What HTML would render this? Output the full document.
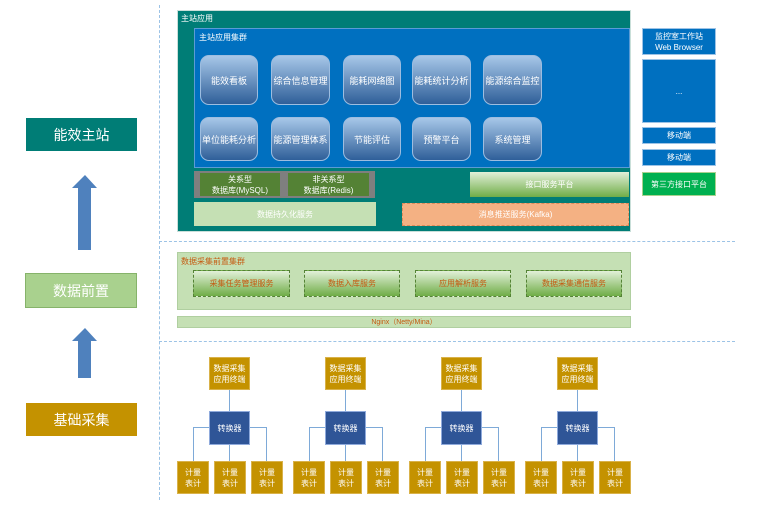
<!DOCTYPE html><html><head><meta charset="utf-8"><style>
body{margin:0;width:764px;height:522px;background:#fff;position:relative;font-family:"Liberation Sans","Noto Sans CJK SC",sans-serif;overflow:hidden}
div{position:absolute;box-sizing:border-box}
.c{display:flex;align-items:center;justify-content:center;text-align:center}
.btn{border-radius:9px;background:linear-gradient(#a7c7e8,#2f5f99);border:1px solid #9dbde0;color:#fff;font-size:9px}
.g{background:#c49200;border:1px solid #d9b24a;color:#fff;font-size:8px;line-height:11px}
.ln{background:#7eaad8}
</style></head><body>
<div style="left:159px;top:5px;height:495px;border-left:1px dashed #9cc3e6"></div>
<div style="left:159px;top:241px;width:576px;border-top:1px dashed #9cc3e6"></div>
<div style="left:159px;top:341px;width:576px;border-top:1px dashed #9cc3e6"></div>

<div class="c" style="left:26px;top:118px;width:111px;height:33px;background:#007d76;color:#fff;font-size:14px">能效主站</div>
<div class="c" style="left:25px;top:273px;width:112px;height:35px;background:#a9d18e;border:1px solid #86b36a;color:#fff;font-size:14px">数据前置</div>
<div class="c" style="left:26px;top:403px;width:111px;height:33px;background:#c49200;color:#fff;font-size:14px">基础采集</div>
<svg style="position:absolute;left:0;top:0" width="160" height="400"><polygon points="85,175 97,188 91,188 91,250 78,250 78,188 72,188" fill="#4f81bd"/><polygon points="85,328 97,341 91,341 91,378 78,378 78,341 72,341" fill="#4f81bd"/></svg>

<div style="left:177px;top:10px;width:454px;height:222px;background:#007d76;border:1px solid #c9dfd9"></div>
<div style="left:181px;top:13px;color:#fff;font-size:8px">主站应用</div>
<div style="left:194px;top:28px;width:436px;height:140px;background:#0070c0;border:1px solid #5b9bd5"></div>
<div style="left:199px;top:32px;color:#fff;font-size:8px">主站应用集群</div>
<div class="c btn" style="left:200px;top:55px;width:58px;height:50px">能效看板</div>
<div class="c btn" style="left:271px;top:55px;width:59px;height:50px">综合信息管理</div>
<div class="c btn" style="left:343px;top:55px;width:58px;height:50px">能耗网络图</div>
<div class="c btn" style="left:412px;top:55px;width:59px;height:50px">能耗统计分析</div>
<div class="c btn" style="left:483px;top:55px;width:59px;height:50px">能源综合监控</div>
<div class="c btn" style="left:200px;top:117px;width:58px;height:44px">单位能耗分析</div>
<div class="c btn" style="left:271px;top:117px;width:59px;height:44px">能源管理体系</div>
<div class="c btn" style="left:343px;top:117px;width:58px;height:44px">节能评估</div>
<div class="c btn" style="left:412px;top:117px;width:59px;height:44px">预警平台</div>
<div class="c btn" style="left:483px;top:117px;width:59px;height:44px">系统管理</div>
<div style="left:194px;top:171px;width:181px;height:27px;background:#7f7f7f"></div>
<div class="c" style="left:200px;top:173px;width:80px;height:23px;background:#548235;color:#fff;font-size:8px;line-height:11px">关系型<br>数据库(MySQL)</div>
<div class="c" style="left:288px;top:173px;width:81px;height:23px;background:#548235;color:#fff;font-size:8px;line-height:11px">非关系型<br>数据库(Redis)</div>
<div class="c" style="left:194px;top:202px;width:182px;height:24px;background:#c5e0b4;color:#fff;font-size:8px">数据持久化服务</div>
<div class="c" style="left:470px;top:172px;width:159px;height:25px;background:linear-gradient(#e2f0d9,#70ad47);color:#fff;font-size:8px">接口服务平台</div>
<div class="c" style="left:402px;top:203px;width:227px;height:23px;background:#f4b183;border:1px dashed #e08a5a;color:#fff;font-size:8px">消息推送服务(Kafka)</div>

<div class="c" style="left:642px;top:28px;width:74px;height:27px;background:#0070c0;color:#fff;font-size:8px;line-height:11px;border:1px solid #9dc3e6">监控室工作站<br>Web Browser</div>
<div class="c" style="left:642px;top:59px;width:74px;height:64px;background:#0070c0;color:#fff;font-size:8px;border:1px solid #9dc3e6">...</div>
<div class="c" style="left:642px;top:127px;width:74px;height:17px;background:#0070c0;color:#fff;font-size:8px;border:1px solid #9dc3e6">移动端</div>
<div class="c" style="left:642px;top:149px;width:74px;height:17px;background:#0070c0;color:#fff;font-size:8px;border:1px solid #9dc3e6">移动端</div>
<div class="c" style="left:642px;top:172px;width:74px;height:24px;background:#00b050;color:#fff;font-size:8px;border:1px solid #a9d18e">第三方接口平台</div>

<div style="left:177px;top:252px;width:454px;height:58px;background:#c5e0b4;border:1px solid #b0cfa0"></div>
<div style="left:181px;top:256px;color:#c55a11;font-size:8px">数据采集前置集群</div>
<div class="c" style="left:193px;top:270px;width:97px;height:27px;background:linear-gradient(#e2f0d9,#70ad47);border:1px dashed #548235;color:#c55a11;font-size:8px">采集任务管理服务</div>
<div class="c" style="left:304px;top:270px;width:96px;height:27px;background:linear-gradient(#e2f0d9,#70ad47);border:1px dashed #548235;color:#c55a11;font-size:8px">数据入库服务</div>
<div class="c" style="left:415px;top:270px;width:96px;height:27px;background:linear-gradient(#e2f0d9,#70ad47);border:1px dashed #548235;color:#c55a11;font-size:8px">应用解析服务</div>
<div class="c" style="left:526px;top:270px;width:96px;height:27px;background:linear-gradient(#e2f0d9,#70ad47);border:1px dashed #548235;color:#c55a11;font-size:8px">数据采集通信服务</div>
<div class="c" style="left:177px;top:316px;width:454px;height:12px;background:#c5e0b4;border:1px solid #b0cfa0;color:#c55a11;font-size:7px">Nginx（Netty/Mina）</div>

<div style="left:0;top:0;width:764px;height:522px">
<!-- groups -->
</div>
<div id="g"></div>
<script>
var h='';for(var i=0;i<4;i++){var o=i*116;
h+='<div class="ln" style="left:'+(229+o)+'px;top:390px;width:1px;height:21px"></div>';
h+='<div class="ln" style="left:'+(193+o)+'px;top:427px;width:74px;height:1px"></div>';
[193,229,266].forEach(function(x){h+='<div class="ln" style="left:'+(x+o)+'px;top:427px;width:1px;height:34px"></div>';});
h+='<div class="c g" style="left:'+(209+o)+'px;top:357px;width:41px;height:33px">数据采集<br>应用终端</div>';
h+='<div class="c" style="left:'+(209+o)+'px;top:411px;width:41px;height:34px;background:#2f5597;border:1px solid #8faadc;color:#fff;font-size:8px">转换器</div>';
[177,214,251].forEach(function(x){h+='<div class="c g" style="left:'+(x+o)+'px;top:461px;width:32px;height:33px">计量<br>表计</div>';});
}document.getElementById('g').outerHTML=h;
</script>
</body></html>
